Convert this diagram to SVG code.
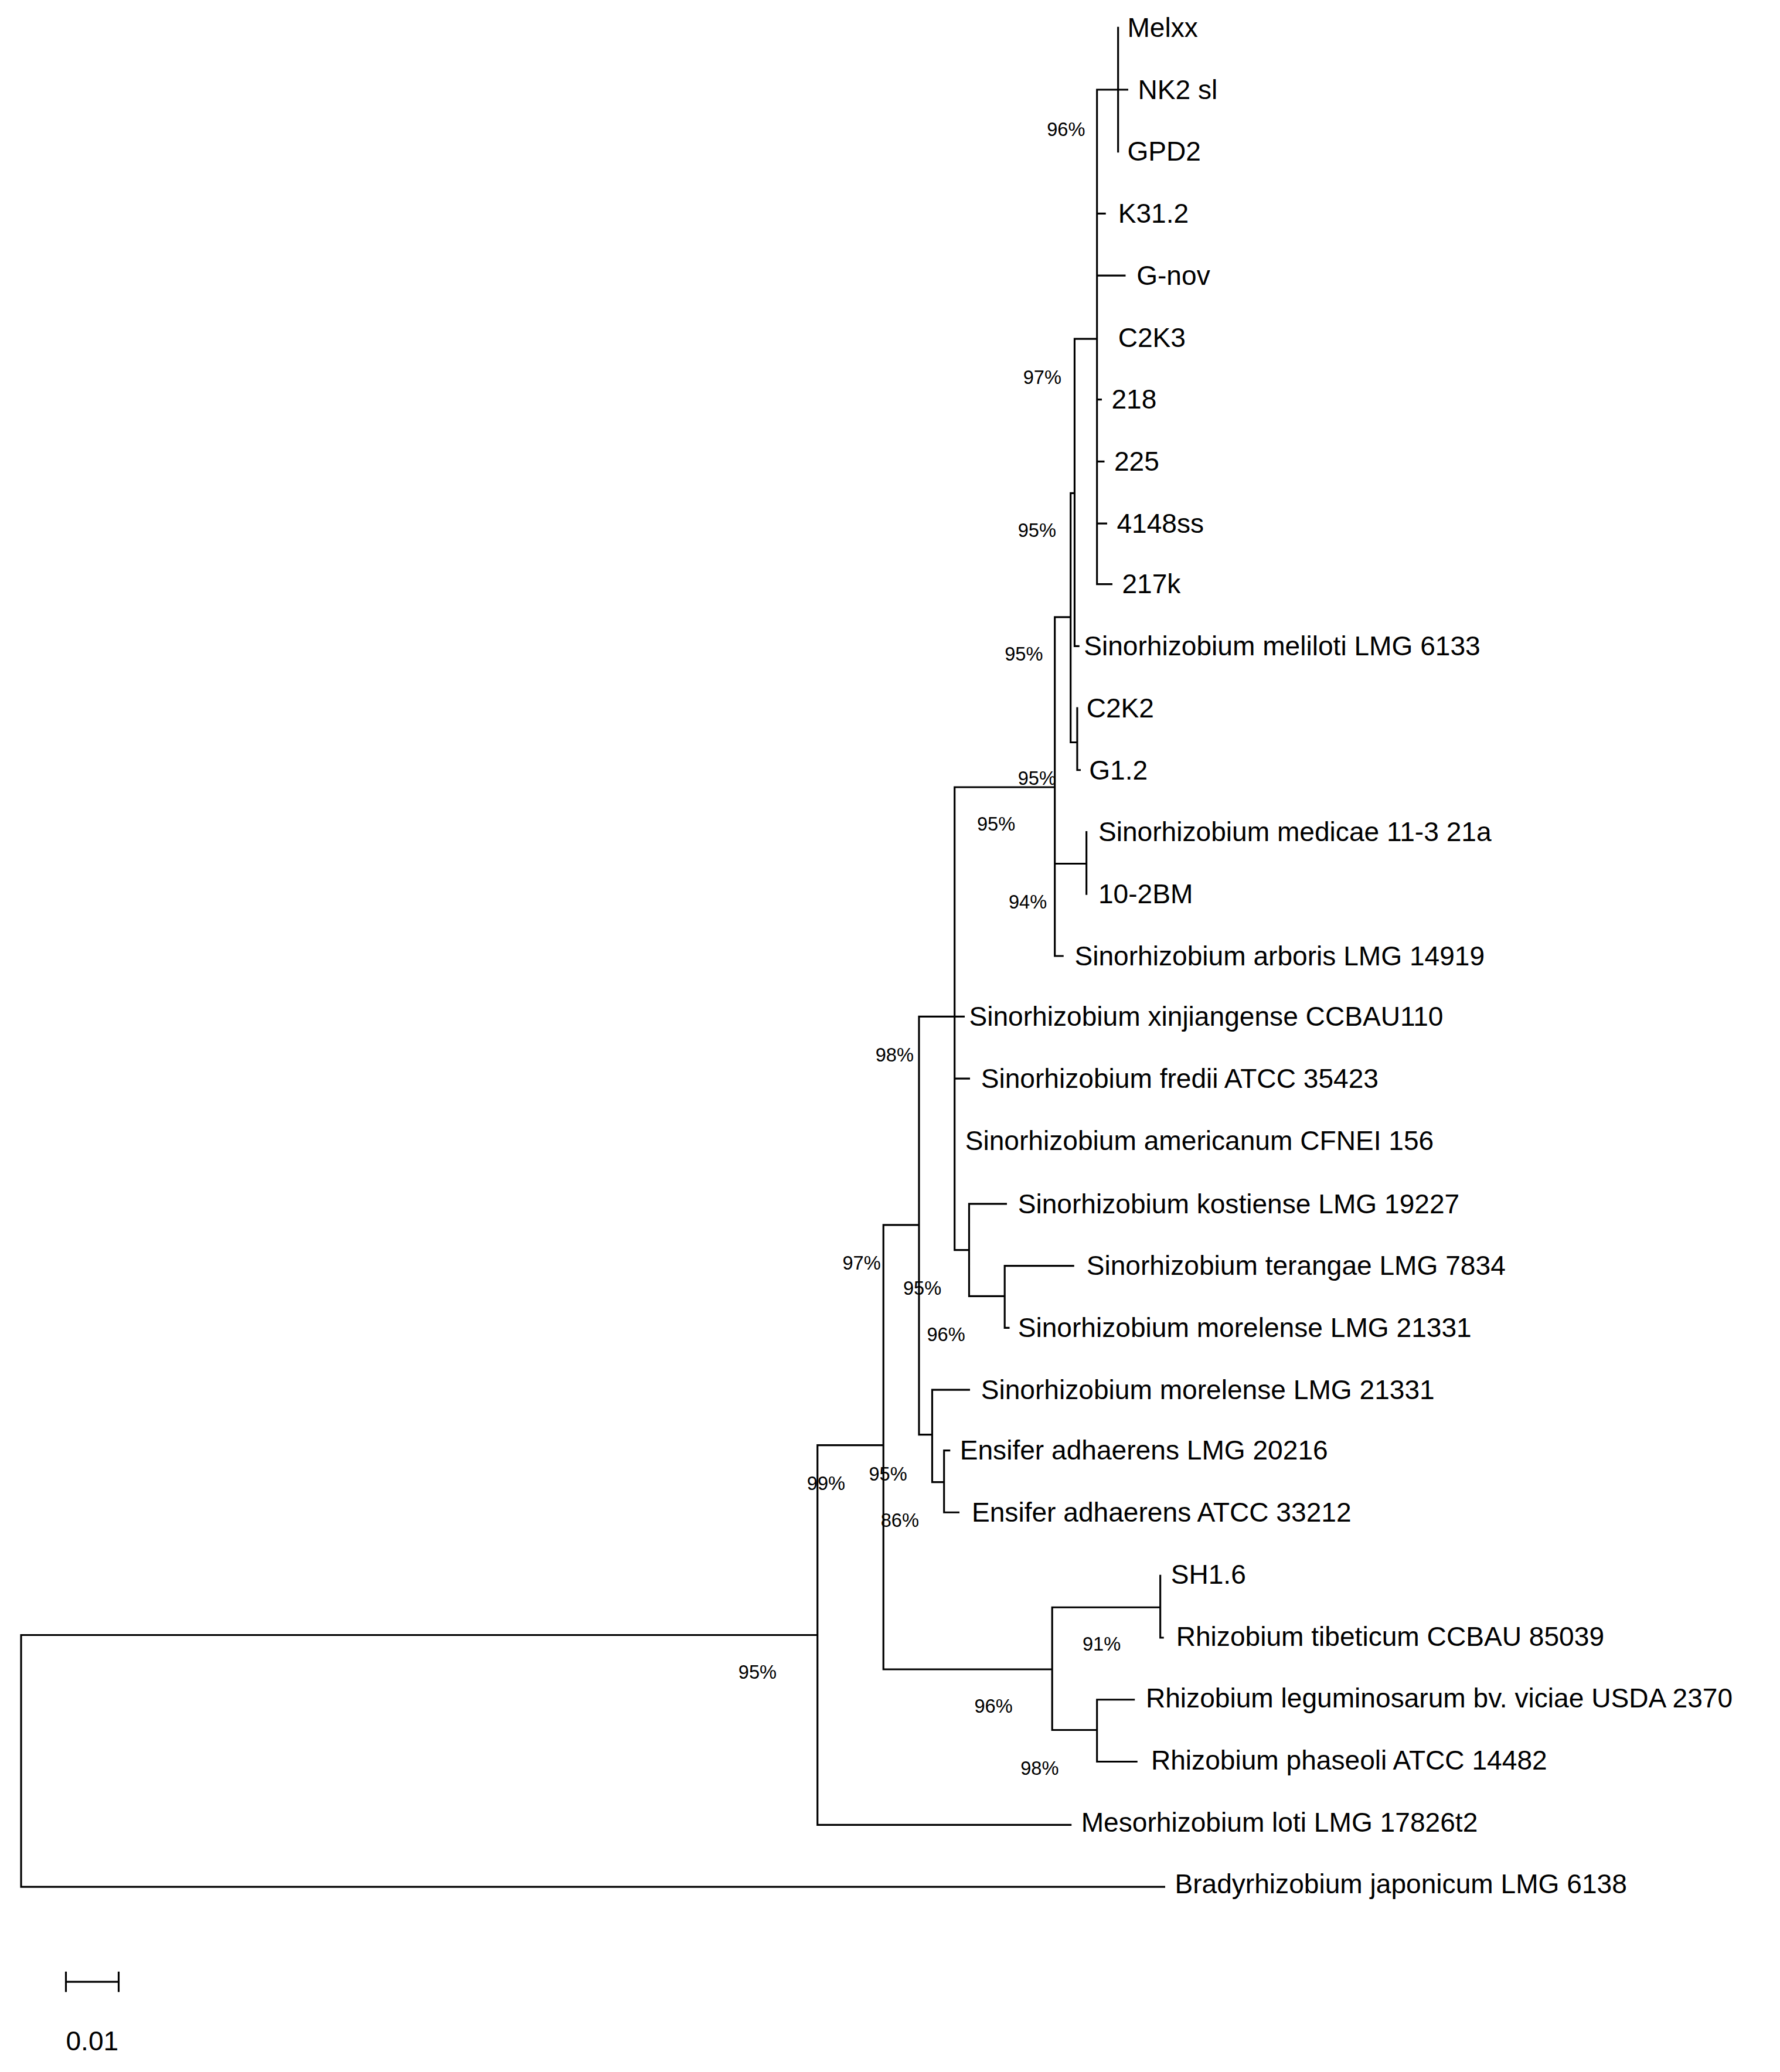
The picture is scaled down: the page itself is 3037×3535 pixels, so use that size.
<svg xmlns="http://www.w3.org/2000/svg" width="3037" height="3535" viewBox="0 0 3037 3535">
<style>
.e{fill:none;stroke:#000;stroke-width:1.4;stroke-linecap:square}
.l{font-family:"Liberation Sans",Arial,sans-serif;font-size:20.5px;fill:#000}
.b{font-family:"Liberation Sans",Arial,sans-serif;font-size:14.5px;fill:#000}
</style>
<rect width="3037" height="3535" fill="#fff"/>
<g transform="scale(2.2496)">
<g id="connectors">
<path class="e" d="M16,1240V1431H883M16,1240H620M620,1096V1384H812M620,1096H670M670,929V1266M670,929H697M697,771V1088M697,771H724M724,597V948M724,771H731M724,818H735M724,948H735M735,913V983M735,913H763M735,983H762M762,960V1007M762,960H814M762,1007H765M697,1088H707M707,1054V1124H716M707,1054H735M716,1100V1147M716,1100H720M716,1147H727M670,1266H798M798,1219V1312M798,1219H880M880,1195V1242M880,1242H882M798,1312H832M832,1289V1336M832,1289H860M832,1336H862M724,597H800M800,468V725H806M800,655H824M824,631V678M800,468H812M812,374V563H817M817,537V584H819M812,374H815M815,257V490H818M815,257H832M832,68V443H843M832,68H848M848,21V115M848,68H855M832,162H838M832,209H853M832,303H835M832,350H837M832,397H839M50,1503H90M50,1496V1510M90,1496V1510"/>
</g>
<g id="n-melxx"><text class="l" x="855" y="28">Melxx</text></g>
<g id="n-nk2"><text class="l" x="863" y="75">NK2 sl</text></g>
<g id="n-gpd2"><text class="l" x="855" y="122">GPD2</text></g>
<g id="n-k312"><text class="l" x="848" y="169">K31.2</text></g>
<g id="n-gnov"><text class="l" x="862" y="216">G-nov</text></g>
<g id="n-c2k3"><text class="l" x="848" y="263">C2K3</text></g>
<g id="n-218"><text class="l" x="843" y="310">218</text></g>
<g id="n-225"><text class="l" x="845" y="357">225</text></g>
<g id="n-4148"><text class="l" x="847" y="404">4148ss</text></g>
<g id="n-217k"><text class="l" x="851" y="450">217k</text></g>
<g id="n-meliloti"><text class="l" x="822" y="497">Sinorhizobium meliloti LMG 6133</text></g>
<g id="n-c2k2"><text class="l" x="824" y="544">C2K2</text></g>
<g id="n-g12"><text class="l" x="826" y="591">G1.2</text></g>
<g id="n-medicae"><text class="l" x="833" y="638">Sinorhizobium medicae 11-3 21a</text></g>
<g id="n-102bm"><text class="l" x="833" y="685">10-2BM</text></g>
<g id="n-arboris"><text class="l" x="815" y="732">Sinorhizobium arboris LMG 14919</text></g>
<g id="n-xinj"><text class="l" x="735" y="778">Sinorhizobium xinjiangense CCBAU110</text></g>
<g id="n-fredii"><text class="l" x="744" y="825">Sinorhizobium fredii ATCC 35423</text></g>
<g id="n-amer"><text class="l" x="732" y="872">Sinorhizobium americanum CFNEI 156</text></g>
<g id="n-kost"><text class="l" x="772" y="920">Sinorhizobium kostiense LMG 19227</text></g>
<g id="n-ter"><text class="l" x="824" y="967">Sinorhizobium terangae LMG 7834</text></g>
<g id="n-mor1"><text class="l" x="772" y="1014">Sinorhizobium morelense LMG 21331</text></g>
<g id="n-mor2"><text class="l" x="744" y="1061">Sinorhizobium morelense LMG 21331</text></g>
<g id="n-ens1"><text class="l" x="728" y="1107">Ensifer adhaerens LMG 20216</text></g>
<g id="n-ens2"><text class="l" x="737" y="1154">Ensifer adhaerens ATCC 33212</text></g>
<g id="n-sh16"><text class="l" x="888" y="1201">SH1.6</text></g>
<g id="n-tib"><text class="l" x="892" y="1248">Rhizobium tibeticum CCBAU 85039</text></g>
<g id="n-leg"><text class="l" x="869" y="1295">Rhizobium leguminosarum bv. viciae USDA 2370</text></g>
<g id="n-pha"><text class="l" x="873" y="1342">Rhizobium phaseoli ATCC 14482</text></g>
<g id="n-meso"><text class="l" x="820" y="1389">Mesorhizobium loti LMG 17826t2</text></g>
<g id="n-brady"><text class="l" x="891" y="1436">Bradyrhizobium japonicum LMG 6138</text></g>
<g id="bootstrap">
<text class="b" x="794" y="103">96%</text>
<text class="b" x="776" y="291">97%</text>
<text class="b" x="772" y="407">95%</text>
<text class="b" x="762" y="501">95%</text>
<text class="b" x="772" y="595">95%</text>
<text class="b" x="741" y="630">95%</text>
<text class="b" x="765" y="689">94%</text>
<text class="b" x="664" y="805">98%</text>
<text class="b" x="639" y="963">97%</text>
<text class="b" x="685" y="982">95%</text>
<text class="b" x="703" y="1017">96%</text>
<text class="b" x="612" y="1130">99%</text>
<text class="b" x="659" y="1123">95%</text>
<text class="b" x="668" y="1158">86%</text>
<text class="b" x="560" y="1273">95%</text>
<text class="b" x="821" y="1252">91%</text>
<text class="b" x="739" y="1299">96%</text>
<text class="b" x="774" y="1346">98%</text>
</g>
<g id="scale"><text class="l" x="50" y="1555">0.01</text></g>
</g>
</svg>
